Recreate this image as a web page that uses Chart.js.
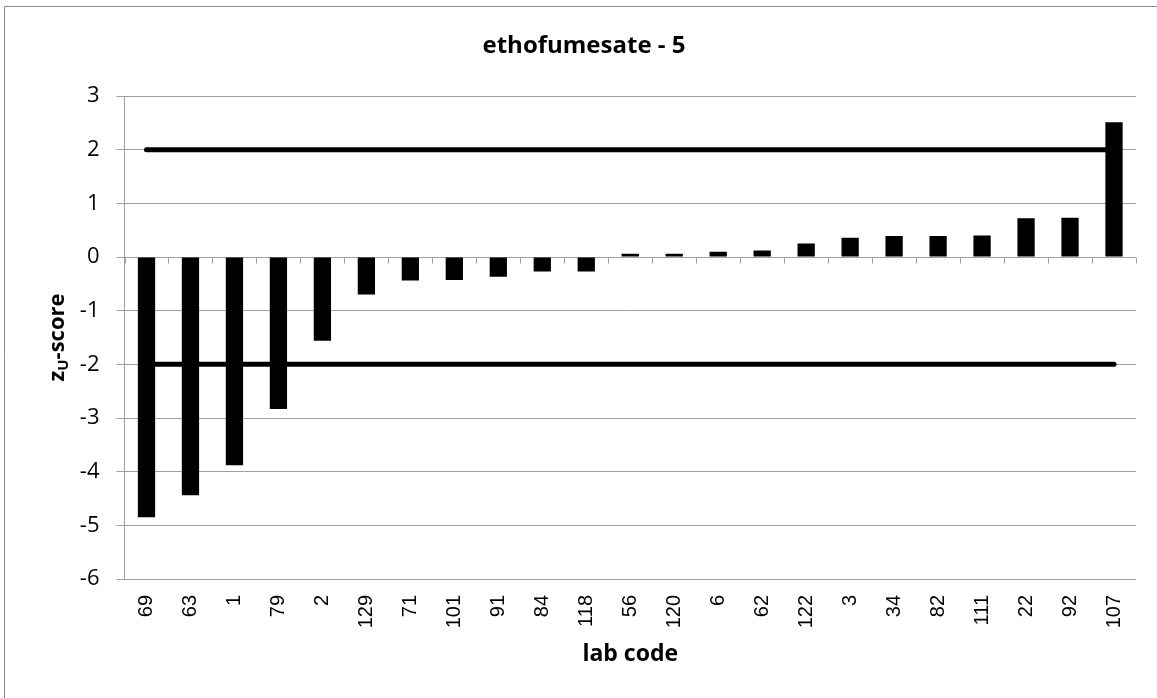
<!DOCTYPE html>
<html>
<head>
<meta charset="utf-8">
<script src="https://cdn.jsdelivr.net/npm/chart.js@4.4.1/dist/chart.umd.min.js"></script>
<style>
  html, body { margin: 0; padding: 0; background: #fff; }
  #wrap { width: 1157px; height: 698px; position: relative; }
</style>
</head>
<body>
<div id="wrap"><canvas id="grafico" width="1157" height="698"></canvas></div>
<script>
// lab codes (eje x) y z-scores
const labCodes = ['69', '63', '1', '79', '2', '129', '71', '101', '91', '84', '118', '56',
                  '120', '6', '62', '122', '3', '34', '82', '111', '22', '92', '107'];
const zScores = [-4.85, -4.44, -3.88, -2.83, -1.56, -0.70, -0.44, -0.43, -0.37, -0.27, -0.27, 0.06,
                 0.06, 0.10, 0.12, 0.25, 0.36, 0.39, 0.39, 0.40, 0.72, 0.73, 2.51];
const upperLimit = [2];
const lowerLimit = [-2];
const yTicks = [3, 2, 1, 0, -1, -2, -3, -4, -5, -6];

const gris = '#a0a0a0';

// textos: titulo, titulos de ejes (con subindice U) y marco
const textosPlugin = {
    id: 'textos',
    beforeDraw(chart) {
        const ctx = chart.ctx;
        ctx.save();
        ctx.fillStyle = '#fff';
        ctx.fillRect(0, 0, chart.width, chart.height);
        ctx.strokeStyle = '#8c8c8c';
        ctx.lineWidth = 1;
        ctx.beginPath();
        ctx.moveTo(4.5, chart.height);
        ctx.lineTo(4.5, 6.5);
        ctx.lineTo(chart.width, 6.5);
        ctx.stroke();
        ctx.restore();
    },
    afterDatasetsDraw(chart) {
        const ctx = chart.ctx;
        const x = chart.scales.x;
        const y = chart.scales.y;
        ctx.save();
        // marcas del eje de categorias en y = 0
        const y0 = Math.round(y.getPixelForValue(0)) + 0.5;
        const w = (x.right - x.left) / labCodes.length;
        ctx.strokeStyle = gris;
        ctx.lineWidth = 1;
        ctx.beginPath();
        for (let i = 0; i <= labCodes.length; i++) {
            const px = Math.round(x.left + i * w) + 0.5;
            ctx.moveTo(px, y0);
            ctx.lineTo(px, y0 + 6);
        }
        ctx.stroke();

        ctx.fillStyle = '#000';
        ctx.textAlign = 'center';
        ctx.textBaseline = 'middle';
        ctx.font = 'bold 24px "Open Sans"';
        ctx.fillText('ethofumesate - 5', 584, 46);
        ctx.font = 'bold 23px "Open Sans"';
        ctx.fillText('lab code', (x.left + x.right) / 2, 654);

        // titulo eje y: z con subindice U
        ctx.translate(57, (y.top + y.bottom) / 2);
        ctx.rotate(-Math.PI / 2);
        const big = 'bold 22px "Open Sans"';
        const small = 'bold 15px "Open Sans"';
        ctx.font = big;
        const wz = ctx.measureText('z').width;
        const wr = ctx.measureText('-score').width;
        ctx.font = small;
        const wu = ctx.measureText('U').width;
        let cx = -(wz + wu + wr) / 2;
        ctx.textAlign = 'left';
        ctx.textBaseline = 'alphabetic';
        ctx.font = big;
        ctx.fillText('z', cx, 7);
        cx += wz;
        ctx.font = small;
        ctx.fillText('U', cx, 11);
        cx += wu;
        ctx.font = big;
        ctx.fillText('-score', cx, 7);
        ctx.restore();
    }
};

Chart.defaults.font.family = '"Open Sans"';
Chart.defaults.color = '#000';

new Chart(document.getElementById('grafico').getContext('2d'), {
    type: 'bar',
    data: {
        labels: labCodes,
        datasets: [{
            type: 'bar',
            data: zScores,
            backgroundColor: '#000',
            borderWidth: 0,
            categoryPercentage: 1,
            barPercentage: 0.393,
            order: 0
        }, {
            type: 'line',
            data: labCodes.map(() => upperLimit[0]),
            borderColor: '#000',
            borderWidth: 5,
            borderCapStyle: 'round',
            pointRadius: 0,
            order: 1
        }, {
            type: 'line',
            data: labCodes.map(() => lowerLimit[0]),
            borderColor: '#000',
            borderWidth: 5,
            borderCapStyle: 'round',
            pointRadius: 0,
            order: 1
        }]
    },
    options: {
        responsive: false,
        animation: false,
        devicePixelRatio: 1,
        layout: { padding: { left: 0, top: 96, right: 21, bottom: 0 } },
        plugins: {
            legend: { display: false },
            title: { display: false },
            tooltip: { enabled: false }
        },
        scales: {
            x: {
                grid: { display: false },
                border: { display: false },
                ticks: {
                    autoSkip: false,
                    minRotation: 90,
                    maxRotation: 90,
                    padding: 8,
                    font: { family: '"Liberation Sans"', size: 20 },
                    color: '#000'
                },
                afterFit(scale) { scale.height = 119; }
            },
            y: {
                min: yTicks[yTicks.length - 1],
                max: yTicks[0],
                afterBuildTicks(scale) { scale.ticks = yTicks.map(v => ({ value: v })); },
                grid: { color: gris, lineWidth: 1, tickLength: 8, drawTicks: true },
                border: { color: gris, width: 1 },
                ticks: {
                    padding: 17,
                    font: { size: 22 },
                    color: '#000'
                },
                afterFit(scale) { scale.width = 124.5; }
            }
        }
    },
    plugins: [textosPlugin]
});
</script>
</body>
</html>
